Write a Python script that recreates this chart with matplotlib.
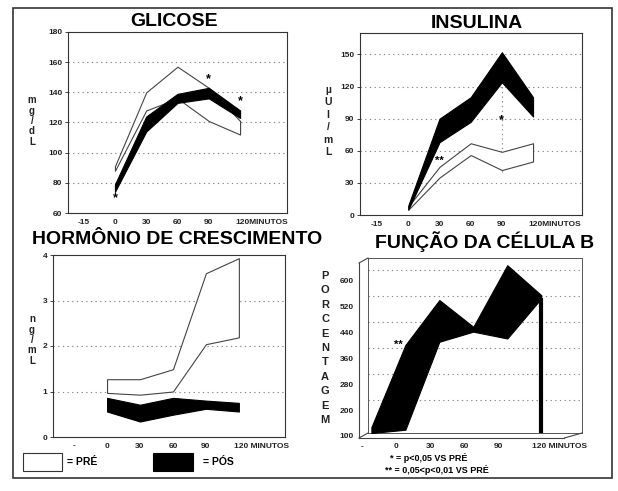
import matplotlib
matplotlib.use("Agg")
import matplotlib.pyplot as plt
import matplotlib.transforms as mtransforms
from matplotlib.patches import Rectangle
from matplotlib.lines import Line2D

plt.rcParams["font.family"] = ["Liberation Sans", "DejaVu Sans"]
plt.rcParams["font.weight"] = "bold"

W, H = 618, 491

# ---- data (x = category index of the time labels) ----
GLI_LABELS = ["-15", "0", "30", "60", "90", "120MINUTOS"]
GLI_X = [1, 2, 3, 4, 5]
GLI_PRE_UP = [91, 140, 157, 143, 121]
GLI_PRE_LO = [88, 128, 136, 121, 112]
GLI_POS_UP = [79, 124, 139, 143, 128]
GLI_POS_LO = [74, 114, 133, 136, 123]

INS_LABELS = ["-15", "0", "30", "60", "90", "120MINUTOS"]
INS_X = [1, 2, 3, 4, 5]
INS_PRE_UP = [8, 45, 67, 59, 67]
INS_PRE_LO = [5, 35, 56, 42, 50]
INS_POS_UP = [9, 90, 110, 152, 110]
INS_POS_LO = [5, 68, 87, 124, 92]

GH_LABELS = ["-", "0", "30", "60", "90", "120 MINUTOS"]
GH_X = [1, 2, 3, 4, 5]
GH_PRE_UP = [1.27, 1.27, 1.49, 3.6, 3.93]
GH_PRE_LO = [0.97, 0.93, 1.0, 2.04, 2.19]
GH_POS_UP = [0.86, 0.71, 0.86, 0.80, 0.75]
GH_POS_LO = [0.56, 0.34, 0.49, 0.62, 0.56]

BETA_LABELS = ["-", "0", "30", "60", "90", "120 MINUTOS"]
BETA_X = [0, 1, 2, 3, 4, 5]
BETA_POS_UP = [118, 370, 508, 426, 615, 523]
BETA_POS_LO = [100, 110, 380, 411, 390, 513]
BETA_TICKS = [100, 200, 280, 360, 440, 520, 600]


def box(left, top, right, bottom):
    return [left / W, 1 - bottom / H, (right - left) / W, (bottom - top) / H]


def fxy(x, y):
    return x / W, 1 - y / H


def shift(dx, dy):
    # offset in pixels (dpi 100)
    return mtransforms.ScaledTranslation(dx / 100, dy / 100, fig.dpi_scale_trans)


def style(ax, labels, ylim, yticks, grid, xlim):
    ax.set_xlim(*xlim)
    ax.set_ylim(*ylim)
    ax.set_yticks(yticks)
    ax.set_xticks(range(len(labels)))
    ax.set_xticklabels(labels)
    ax.tick_params(labelsize=6, length=2, width=0.6, pad=2, colors="#222222")
    ax.tick_params(axis="x", length=0, pad=4)
    for s in ax.spines.values():
        s.set_linewidth(0.8)
        s.set_color("#333333")
    for v in grid:
        ax.axhline(v, color="#888888", lw=0.8, ls=(0, (1.2, 3)), zorder=0)
    last = ax.get_xticklabels()[-1]
    last.set_ha("left")
    last.set_transform(last.get_transform() + shift(-5, 0))


def bands(ax, x, pre_up, pre_lo, pos_up, pos_lo):
    ax.fill_between(x, pre_lo, pre_up, facecolor="white", edgecolor="#444444",
                    lw=0.8, zorder=2)
    ax.fill_between(x, pos_lo, pos_up, facecolor="black", edgecolor="black",
                    lw=0.8, zorder=3)


def vlabel(x, y, text, size, spacing):
    fig.text(*fxy(x, y), "\n".join(text), ha="center", va="center",
             fontsize=size, linespacing=spacing, color="#222222")


fig = plt.figure(figsize=(W / 100, H / 100), dpi=100)
fig.patch.set_facecolor("white")

# ---- GLICOSE ----
ax1 = fig.add_axes(box(68, 32, 287, 213))
bands(ax1, GLI_X, GLI_PRE_UP, GLI_PRE_LO, GLI_POS_UP, GLI_POS_LO)
style(ax1, GLI_LABELS, (60, 180), range(60, 181, 20), range(80, 161, 20), (-0.5, 6.5))
for xs, ys in [(1, 70), (4, 149), (5, 134)]:
    ax1.text(xs, ys, "*", ha="center", va="center", fontsize=9, zorder=4)
fig.text(*fxy(174, 21), "GLICOSE", ha="center", va="center", fontsize=14)
vlabel(32, 121, "mg/dL", 7, 1.05)

# ---- INSULINA ----
ax2 = fig.add_axes(box(360, 33, 582, 215))
bands(ax2, INS_X, INS_PRE_UP, INS_PRE_LO, INS_POS_UP, INS_POS_LO)
style(ax2, INS_LABELS, (0, 170), range(0, 151, 30), range(30, 151, 30), (-0.55, 6.57))
ax2.vlines(4, 40, 124, color="#888888", lw=0.8, ls=(0, (1.2, 3)), zorder=1)
ax2.text(4, 89, "*", ha="center", va="center", fontsize=9, zorder=4)
ax2.text(2, 51, "**", ha="center", va="center", fontsize=8, zorder=4)
fig.text(*fxy(477, 24), "INSULINA", ha="center", va="center", fontsize=14)
vlabel(328, 121, "µUI/mL", 7.5, 1.3)

# ---- HORMÔNIO DE CRESCIMENTO ----
ax3 = fig.add_axes(box(53, 255, 285, 437))
bands(ax3, GH_X, GH_PRE_UP, GH_PRE_LO, GH_POS_UP, GH_POS_LO)
style(ax3, GH_LABELS, (0, 4), range(0, 5), [1, 2, 3], (-0.64, 6.4))
fig.text(*fxy(177, 239), "HORMÔNIO DE CRESCIMENTO", ha="center", va="center", fontsize=14)
vlabel(32, 340, "ng/mL", 7, 1.05)

# legend
fig.add_artist(Rectangle(fxy(23, 471), 39 / W, 18 / H, facecolor="white",
                         edgecolor="#333333", lw=0.8, transform=fig.transFigure))
fig.text(*fxy(67, 462), "= PRÉ", ha="left", va="center", fontsize=7.5)
fig.add_artist(Rectangle(fxy(153, 471), 40 / W, 18 / H, facecolor="black",
                         edgecolor="black", lw=0.8, transform=fig.transFigure))
fig.text(*fxy(203, 462), "= PÓS", ha="left", va="center", fontsize=7.5)

# ---- FUNÇÃO DA CÉLULA B (pseudo 3D) ----
ax4 = fig.add_axes(box(368, 258, 582, 433))
ax4.set_xlim(-0.1, 6.2)
ax4.set_ylim(100, 637)
ax4.set_yticks(BETA_TICKS)
ax4.set_xticks(range(len(BETA_LABELS)))
ax4.set_xticklabels(BETA_LABELS)
ax4.tick_params(labelsize=6, length=0, pad=3, colors="#222222")
for s in ax4.spines.values():
    s.set_linewidth(0.7)
    s.set_color("#555555")
for v in BETA_TICKS[1:]:
    ax4.axhline(v, color="#888888", lw=0.8, ls=(0, (1.2, 3)), zorder=0)
for i, lab in enumerate(ax4.get_yticklabels()):
    lab.set_transform(lab.get_transform() + shift(-10, -3 if i == 0 else -10))
for lab in ax4.get_xticklabels():
    lab.set_transform(lab.get_transform() + shift(-9, -6))
ax4.get_xticklabels()[-1].set_ha("left")

# front plane edges and the edges joining it to the back plane
front = ax4.transAxes + shift(-9, -5)
inv = fig.transFigure.inverted()
for x0, y0, x1, y1 in [(0, 0, 0, 1), (0, 0, 0.96, 0)]:
    fig.add_artist(Line2D([x0, x1], [y0, y1], transform=front, color="#444444", lw=0.8))
for pf, pb in [((0, 1), (0, 1)), ((0, 0), (0, 0)), ((0.96, 0), (1, 0))]:
    a = inv.transform(ax4.transAxes.transform(pb))
    b = inv.transform(front.transform(pf))
    fig.add_artist(Line2D([a[0], b[0]], [a[1], b[1]], transform=fig.transFigure,
                          color="#444444", lw=0.8))

ax4.fill_between(BETA_X, BETA_POS_LO, BETA_POS_UP, facecolor="black",
                 edgecolor="black", lw=0.8, zorder=3)
ax4.vlines(BETA_X[-1], 100, BETA_POS_LO[-1], color="black", lw=3, zorder=3)
ax4.text(0.8, 372, "**", ha="center", va="center", fontsize=8, zorder=4)
fig.text(*fxy(485, 242), "FUNÇÃO DA CÉLULA B", ha="center", va="center", fontsize=14)
vlabel(325, 348, "PORCENTAGEM", 8, 1.55)
fig.text(*fxy(390, 458), "* = p<0,05 VS PRÉ", ha="left", va="center", fontsize=6.5)
fig.text(*fxy(385, 470), "** = 0,05<p<0,01 VS PRÉ", ha="left", va="center", fontsize=6.5)

# outer frame
fig.add_artist(Rectangle(fxy(13, 478), 599 / W, 470 / H, facecolor="none",
                         edgecolor="#333333", lw=1.2, transform=fig.transFigure))

fig.savefig("out.png", dpi=100)
